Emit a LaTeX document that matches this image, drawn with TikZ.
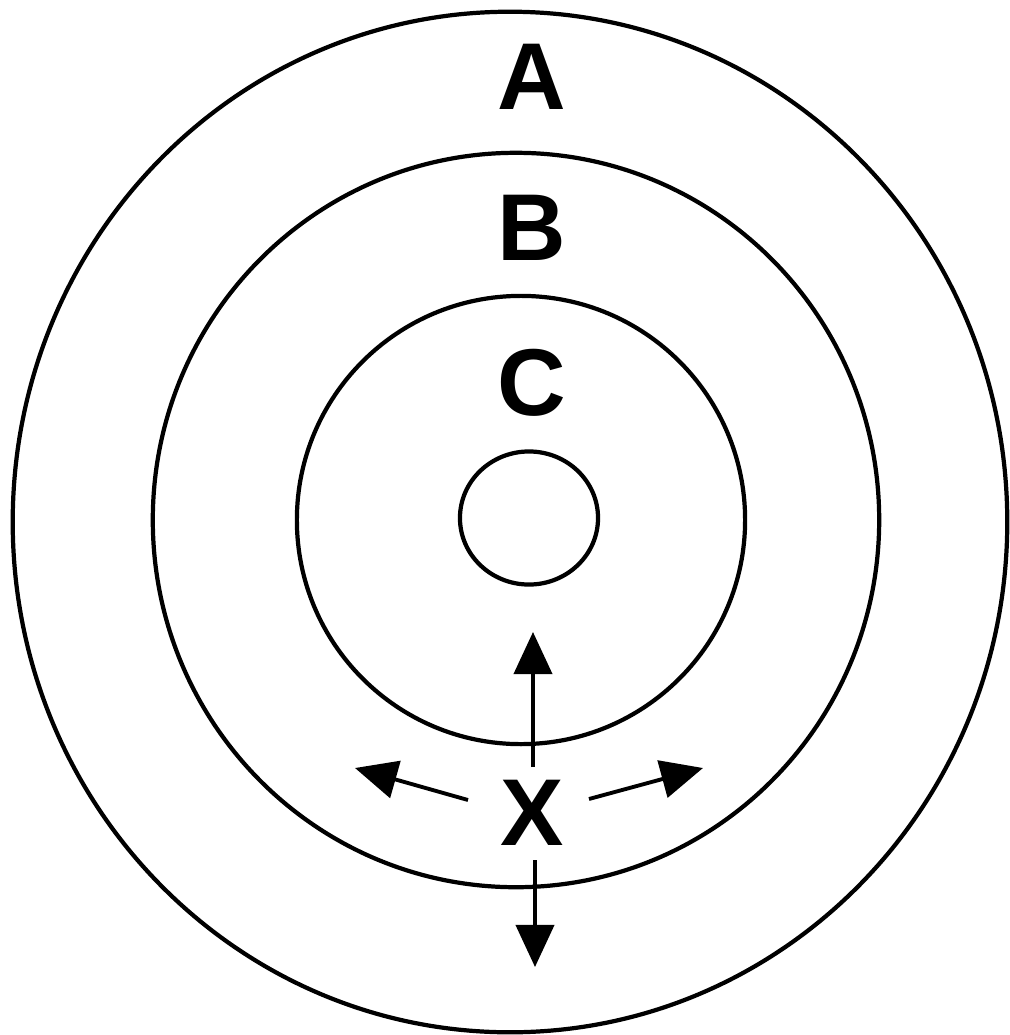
\documentclass[tikz,border=0pt]{standalone}
\usepackage{fontspec}
\setmainfont{Liberation Sans}
\usetikzlibrary{arrows.meta}

\begin{document}
\begin{tikzpicture}[x=0.01cm, y=-0.01cm, line width=1.2pt]
    \tikzstyle{zone}=[font=\fontsize{27}{27}\selectfont\bfseries, inner sep=0pt]
    \tikzstyle{push}=[-{Triangle[length=0.42cm,width=0.38cm]}, line width=1.1pt]
    \useasboundingbox (0,0) rectangle (1010,1035);

    % rings
    \draw (510,522) ellipse [x radius=4.97cm, y radius=5.1cm];
    \draw (516,520) ellipse [x radius=3.63cm, y radius=3.67cm];
    \draw (521,520) ellipse [x radius=2.24cm, y radius=2.24cm];
    \draw (529,518) ellipse [x radius=0.69cm, y radius=0.665cm];

    \node[zone] (A) at (532,77) {A};
    \node[zone] (B) at (532,228) {B};
    \node[zone] (C) at (532,383) {C};
    \node[zone] (X) at (532,813) {X};

    % arrows round X
    \coordinate (upfrom)    at (533,767);
    \coordinate (downfrom)  at (535,860);
    \coordinate (leftfrom)  at (468,800);
    \coordinate (rightfrom) at (589,799);
    \coordinate (up)    at (533,632);
    \coordinate (down)  at (535,967);
    \coordinate (left)  at (355,768);
    \coordinate (right) at (703,768);

    \draw[push] (upfrom) -- (up);
    \draw[push] (downfrom) -- (down);
    \draw[push] (leftfrom) -- (left);
    \draw[push] (rightfrom) -- (right);
\end{tikzpicture}
\end{document}
